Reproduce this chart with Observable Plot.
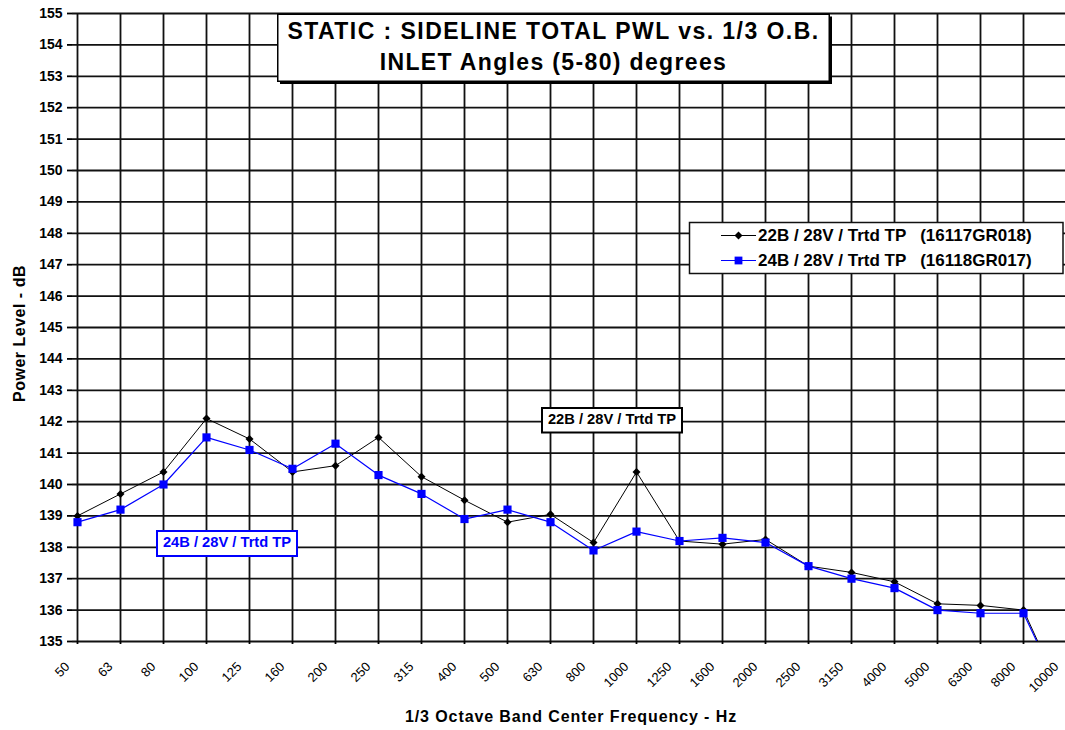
<!DOCTYPE html>
<html><head><meta charset="utf-8">
<script src="https://cdn.jsdelivr.net/npm/d3@7"></script>
<script src="https://cdn.jsdelivr.net/npm/@observablehq/plot@0.6"></script>
<style>
html,body{margin:0;padding:0;background:#fff;overflow:hidden}
#wrap{position:relative;width:1065px;height:730px;overflow:hidden}
#wrap svg{max-width:none !important;display:block}
</style></head><body><div id="wrap"></div>
<script>
// ---- data ----
const freqs = ["50","63","80","100","125","160","200","250","315","400","500","630","800","1000","1250","1600","2000","2500","3150","4000","5000","6300","8000","10000"];
const pwl22B = [139.0,139.7,140.4,142.1,141.45,140.4,140.6,141.5,140.25,139.5,138.8,139.05,138.15,140.4,138.2,138.1,138.25,137.4,137.2,136.9,136.2,136.15,136.0,133.0];
const pwl24B = [138.8,139.2,140.0,141.5,141.1,140.5,141.3,140.3,139.7,138.9,139.2,138.8,137.9,138.5,138.2,138.3,138.15,137.4,137.0,136.7,136.0,135.9,135.9,133.0];
const yTicks = d3.range(135, 156);
const seriesNames = ["22B / 28V / Trtd TP   (16117GR018)", "24B / 28V / Trtd TP   (16118GR017)"];
const seriesColors = ["#000000", "#0000ff"];
const annotLabels = ["22B / 28V / Trtd TP", "24B / 28V / Trtd TP"];
const titleLines = ["STATIC : SIDELINE TOTAL PWL vs. 1/3 O.B.", "INLET Angles (5-80) degrees"];
const xLabel = "1/3 Octave Band Center Frequency - Hz";
const yLabel = "Power Level - dB";

const rowsA = freqs.map((f, i) => ({freq: f, value: pwl22B[i]}));
const rowsB = freqs.map((f, i) => ({freq: f, value: pwl24B[i]}));
const FONT = "'Liberation Sans', Arial, sans-serif";
const GRID = {stroke: "#111", strokeOpacity: 1, strokeWidth: 1.8};

const chart = Plot.plot({
  width: 1100, height: 730,
  marginLeft: 72, marginRight: 29, marginTop: 13, marginBottom: 89,
  style: {fontFamily: FONT, background: "#fff", color: "#000"},
  x: {type: "point", domain: freqs, padding: 0, label: null},
  y: {domain: [135, 155], label: null},
  marks: [
    Plot.gridX(freqs, GRID),
    Plot.gridY(yTicks, GRID),
    Plot.axisY(yTicks, {tickSize: 5, tickPadding: 5, fontSize: 14, fontWeight: "bold", label: null, strokeWidth: 1.8}),
    Plot.axisX(freqs, {tickSize: 3, tickFormat: () => "", label: null, strokeWidth: 1.8}),
    Plot.text(freqs, {x: d => d, y: () => 135, text: d => d, rotate: -45, textAnchor: "end", lineAnchor: "middle", dx: -10, dy: 23, fontSize: 13}),
    Plot.line(rowsA, {x: "freq", y: "value", stroke: seriesColors[0], strokeWidth: 1, clip: true}),
    Plot.dot(rowsA, {x: "freq", y: "value", symbol: "diamond2", r: 3.6, fill: seriesColors[0], clip: true}),
    Plot.line(rowsB, {x: "freq", y: "value", stroke: seriesColors[1], strokeWidth: 1.2, clip: true}),
    Plot.dot(rowsB, {x: "freq", y: "value", symbol: "square", r: 4.6, fill: seriesColors[1], clip: true})
  ]
});
document.getElementById("wrap").appendChild(chart);

// ---- overlays (title, legend, annotations, axis titles) ----
const svg = d3.select(chart);
const g = svg.append("g").attr("font-family", FONT).attr("text-anchor", "start");

// title box with shadow
g.append("rect").attr("x", 280).attr("y", 16.5).attr("width", 552).attr("height", 67.5).attr("fill", "#000");
g.append("rect").attr("x", 277.75).attr("y", 14.25).attr("width", 551.5).attr("height", 67).attr("fill", "#fff").attr("stroke", "#000").attr("stroke-width", 1.5);
titleLines.forEach((t, i) => {
  g.append("text").attr("x", 553.5).attr("y", i === 0 ? 38.5 : 70).attr("text-anchor", "middle")
    .attr("font-size", 23).attr("font-weight", "bold").style("letter-spacing", i === 0 ? "1.45px" : "1.35px").attr("fill", "#000").text(t);
});

// legend
g.append("rect").attr("x", 689.5).attr("y", 222.5).attr("width", 373.5).attr("height", 51).attr("fill", "#fff").attr("stroke", "#111").attr("stroke-width", 1.5);
const legendSymbols = [d3.symbol(d3.symbolDiamond2, Math.PI * 3.6 * 3.6), d3.symbol(d3.symbolSquare, Math.PI * 4.4 * 4.4)];
seriesNames.forEach((name, i) => {
  const cy = i === 0 ? 235.5 : 260.5;
  g.append("line").attr("x1", 721).attr("x2", 756).attr("y1", cy).attr("y2", cy).attr("stroke", seriesColors[i]).attr("stroke-width", i === 0 ? 1 : 1.2);
  g.append("path").attr("d", legendSymbols[i]()).attr("transform", `translate(738.5,${cy})`).attr("fill", seriesColors[i]);
  g.append("text").attr("x", 758).attr("y", cy + 5.3).attr("text-anchor", "start").attr("font-size", 17).attr("font-weight", "bold")
    .style("white-space", "pre").attr("fill", "#000").text(name);
});

// annotation boxes
g.append("rect").attr("x", 542).attr("y", 408).attr("width", 140).attr("height", 24.5).attr("fill", "#fff").attr("stroke", "#000").attr("stroke-width", 2);
g.append("text").attr("x", 612).attr("y", 423.5).attr("text-anchor", "middle").attr("font-size", 14.7).attr("font-weight", "bold").attr("fill", "#000").text(annotLabels[0]);
g.append("rect").attr("x", 157).attr("y", 531).attr("width", 140).attr("height", 25).attr("fill", "#fff").attr("stroke", "#0000ff").attr("stroke-width", 2);
g.append("text").attr("x", 227).attr("y", 546.5).attr("text-anchor", "middle").attr("font-size", 14.7).attr("font-weight", "bold").attr("fill", "#0000ff").text(annotLabels[1]);

// axis titles
g.append("text").attr("transform", "translate(24.5,333.5) rotate(-90)").attr("text-anchor", "middle")
  .attr("font-size", 16).attr("font-weight", "bold").style("letter-spacing", "0.5px").attr("fill", "#000").text(yLabel);
g.append("text").attr("x", 571).attr("y", 722).attr("text-anchor", "middle")
  .attr("font-size", 16).attr("font-weight", "bold").style("letter-spacing", "0.9px").attr("fill", "#000").text(xLabel);
</script></body></html>
